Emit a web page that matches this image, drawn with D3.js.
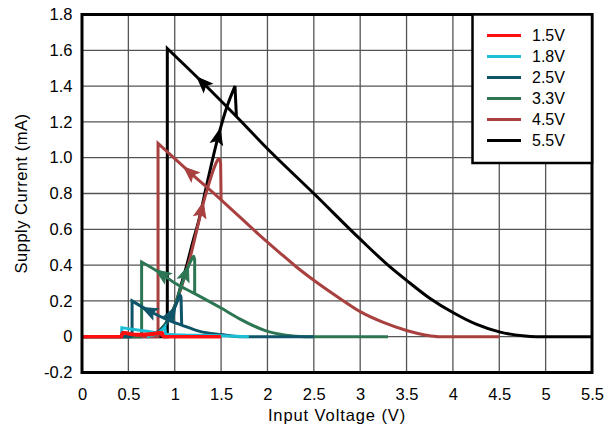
<!DOCTYPE html>
<html>
<head>
<meta charset="utf-8">
<script src="https://cdn.jsdelivr.net/npm/d3@7"></script>
<style>
  body { margin: 0; background: #fff; }
  svg text { font-family: "Liberation Sans", Arial, sans-serif; fill: #000; }
</style>
</head>
<body>
<svg id="chart" width="613" height="427"></svg>
<script>
// supply voltages (legend order)
const supplies = ["1.5V", "1.8V", "2.5V", "3.3V", "4.5V", "5.5V"];

// input sweep high -> low  [input V, supply mA]
const down15 = [[1.5,0],[0.88,0],[0.865,0.022],[0.7,0.014],[0.55,0.012],[0.44,0.022],[0.425,0],[0,0]];
const down18 = [[1.8,0],[1.5,0.005],[1.2,0.008],[0.95,0.012],[0.7,0.03],[0.43,0.05],[0.425,0],[0,0]];
const down25 = [[2.5,0],[1.7,0],[1.5,0.012],[1.27,0.03],[1.075,0.065],[0.9,0.10],[0.72,0.145],[0.54,0.2],[0.54,0],[0,0]];
const down33 = [[3.3,0],[2.4,0],[2.2,0.008],[1.97,0.035],[1.7,0.10],[1.5,0.16],[1.2,0.245],[1.0,0.30],[0.86,0.35],[0.643,0.417],[0.643,0],[0,0]];
const down45 = [[4.5,0],[3.85,0],[3.7,0.01],[3.5,0.035],[3.25,0.08],[3.0,0.14],[2.82,0.2],[2.5,0.315],[2.3,0.395],[2.13,0.47],[1.92,0.565],[1.5,0.765],[1.16,0.92],[0.82,1.08],[0.82,0],[0,0]];
const down55 = [[5.5,0],[4.9,0],[4.75,0.005],[4.5,0.027],[4.25,0.07],[4.0,0.135],[3.75,0.215],[3.5,0.315],[3.3,0.40],[3.0,0.545],[2.5,0.80],[2.0,1.05],[1.665,1.23],[1.3,1.42],[0.92,1.61],[0.92,0],[0,0]];

// input sweep low -> high
const up15 = [[0.42,0],[0.44,0.022],[0.6,0.01],[0.75,0.012],[0.85,0.022],[0.87,0]];
const up18 = [[0.7,0],[0.8,0.015],[0.87,0.04],[0.895,0.055],[0.9,0.012]];
const up25 = [[0.7,0],[0.8,0.02],[0.9,0.065],[0.97,0.13],[1.03,0.2],[1.055,0.235],[1.068,0.22],[1.075,0.066]];
const up33 = [[0.7,0],[0.8,0.02],[0.9,0.07],[1.0,0.17],[1.075,0.29],[1.13,0.37],[1.18,0.43],[1.205,0.45],[1.215,0.43],[1.215,0.245]];
const up45 = [[0.7,0],[0.8,0.02],[0.9,0.07],[1.0,0.17],[1.08,0.29],[1.16,0.43],[1.24,0.60],[1.29,0.71],[1.36,0.84],[1.43,0.95],[1.46,0.985],[1.48,0.995],[1.495,0.97],[1.5,0.765]];
const up55 = [[0.7,0],[0.8,0.02],[0.9,0.07],[1.0,0.17],[1.075,0.30],[1.13,0.40],[1.2,0.54],[1.25,0.63],[1.35,0.86],[1.47,1.12],[1.56,1.28],[1.65,1.40],[1.665,1.23]];

// where the direction arrows sit (input V) on each sweep
const arrowDown = [null, null, 0.72, 0.86, 1.16, 1.3];
const arrowUp = [null, null, 0.97, 1.12, 1.29, 1.47];

const xTicks = [0, 0.5, 1, 1.5, 2, 2.5, 3, 3.5, 4, 4.5, 5, 5.5];
const yTicks = [-0.2, 0, 0.2, 0.4, 0.6, 0.8, 1.0, 1.2, 1.4, 1.6, 1.8];
const yTickLabels = ["-0.2", "0", "0.2", "0.4", "0.6", "0.8", "1.0", "1.2", "1.4", "1.6", "1.8"];

const downs = [down15, down18, down25, down33, down45, down55];
const ups = [up15, up18, up25, up33, up45, up55];
const colors = ["#ff1010", "#1cbfd4", "#0f5569", "#2d7654", "#a8403f", "#000000"];
const widths = [3.5, 3, 3, 3, 3, 3];

let svg = d3.select("#chart");
let plotL = 82, plotR = 592, plotT = 14.5, plotB = 372.5;

let x = d3.scaleLinear().domain([0, 5.5]).range([plotL, plotR]);
let y = d3.scaleLinear().domain([-0.2, 1.8]).range([plotB, plotT]);

// grid
let grid = svg.append("g");
grid.selectAll(".vg").data(xTicks.slice(1, -1)).enter().append("line")
  .attr("x1", d => x(d)).attr("x2", d => x(d))
  .attr("y1", plotT).attr("y2", plotB)
  .attr("stroke", "#555").attr("stroke-width", 1.3);
grid.selectAll(".hg").data(yTicks.slice(1, -1)).enter().append("line")
  .attr("x1", plotL).attr("x2", plotR)
  .attr("y1", d => y(d)).attr("y2", d => y(d))
  .attr("stroke", "#555").attr("stroke-width", 1.3);

// axes (labels only, the frame is drawn separately)
let xAxis = d3.axisBottom(x).tickValues(xTicks).tickSize(0).tickPadding(16)
  .tickFormat(d => String(d));
svg.append("g").attr("transform", `translate(0,${plotB})`).call(xAxis)
  .call(g => g.select(".domain").remove())
  .selectAll("text").style("font-size", "16.5px").style("font-family", "Liberation Sans, Arial, sans-serif").attr("fill", "#000");

let yAxis = d3.axisLeft(y).tickValues(yTicks).tickSize(0).tickPadding(9.5)
  .tickFormat((d, i) => yTickLabels[i]);
svg.append("g").attr("transform", `translate(${plotL},0)`).call(yAxis)
  .call(g => g.select(".domain").remove())
  .selectAll("text").style("font-size", "16.5px").style("font-family", "Liberation Sans, Arial, sans-serif").attr("fill", "#000");

svg.append("text")
  .attr("x", (plotL + plotR) / 2).attr("y", 421)
  .attr("text-anchor", "middle").style("font-size", "16.5px").style("letter-spacing", "0.9px")
  .text("Input Voltage (V)");

svg.append("text")
  .attr("transform", `translate(27,${(plotT + plotB) / 2}) rotate(-90)`)
  .attr("text-anchor", "middle").style("font-size", "16.5px").style("letter-spacing", "0.5px")
  .text("Supply Current (mA)");

// curves: smooth runs, straight steep drops
let smooth = d3.line().x(d => x(d[0])).y(d => y(d[1])).curve(d3.curveMonotoneX);
let straight = d3.line().x(d => x(d[0])).y(d => y(d[1]));

function isSteep(a, b) {
  let dx = Math.abs(x(b[0]) - x(a[0])), dy = Math.abs(y(b[1]) - y(a[1]));
  return dx < 0.01 || dy / dx > 10;
}

function branchPath(pts) {
  let d = "", run = [pts[0]];
  for (let i = 1; i < pts.length; i++) {
    let a = pts[i - 1], b = pts[i];
    if (isSteep(a, b)) {
      if (run.length > 1) d += smooth(run);
      d += (d ? "L" : "M" + x(a[0]) + "," + y(a[1]) + "L") + x(b[0]) + "," + y(b[1]);
      run = [b];
    } else {
      run.push(b);
    }
  }
  if (run.length > 1) d += (d ? smooth(run).replace(/^M/, "L") : smooth(run));
  return d;
}

let curves = svg.append("g");

// find the point at input v along a branch and the direction of travel there
function pointAt(pts, v) {
  for (let i = 0; i < pts.length - 1; i++) {
    let a = pts[i], b = pts[i + 1];
    if (a[0] === b[0]) continue;
    let t = (v - a[0]) / (b[0] - a[0]);
    if (t >= 0 && t <= 1) {
      let px = x(a[0] + t * (b[0] - a[0])), py = y(a[1] + t * (b[1] - a[1]));
      let ang = Math.atan2(y(b[1]) - y(a[1]), x(b[0]) - x(a[0]));
      return [px, py, ang];
    }
  }
  return null;
}

function arrow(g, pts, v, color) {
  let p = pointAt(pts, v);
  if (!p) return;
  let L = 15, W = 6;
  g.append("path")
    .attr("d", `M${L / 2},0 L${-L / 2},${-W} L${-L / 2 + 3},0 L${-L / 2},${W} Z`)
    .attr("transform", `translate(${p[0]},${p[1]}) rotate(${p[2] * 180 / Math.PI})`)
    .attr("fill", color).attr("stroke", color).attr("stroke-width", 1)
    .attr("stroke-linejoin", "miter");
}

// draw black first so that the low supplies sit on top
for (let i = supplies.length - 1; i >= 0; i--) {
  let g = curves.append("g");
  [downs[i], ups[i]].forEach(function(pts) {
    g.append("path").attr("d", branchPath(pts))
      .attr("fill", "none").attr("stroke", colors[i]).attr("stroke-width", widths[i])
      .attr("stroke-linejoin", "miter");
  });
  if (arrowDown[i] != null) arrow(g, downs[i], arrowDown[i], colors[i]);
  if (arrowUp[i] != null) arrow(g, ups[i], arrowUp[i], colors[i]);
}

// plot frame
svg.append("rect")
  .attr("x", plotL).attr("y", plotT)
  .attr("width", plotR - plotL).attr("height", plotB - plotT)
  .attr("fill", "none").attr("stroke", "#000").attr("stroke-width", 3);

// legend
let legend = svg.append("g");
legend.append("rect")
  .attr("x", 472.5).attr("y", plotT).attr("width", plotR - 472.5).attr("height", 163 - plotT)
  .attr("fill", "#fff").attr("stroke", "#000").attr("stroke-width", 2.5);

let rows = legend.selectAll(".row").data(supplies).enter().append("g")
  .attr("transform", (d, i) => `translate(0,${35.5 + i * 21})`);
rows.append("line")
  .attr("x1", 487).attr("x2", 521).attr("y1", 0).attr("y2", 0)
  .attr("stroke", (d, i) => colors[i]).attr("stroke-width", 3);
rows.append("text")
  .attr("x", 532).attr("y", 0).attr("dy", "0.35em")
  .style("font-size", "16px")
  .text(d => d);
</script>
</body>
</html>
